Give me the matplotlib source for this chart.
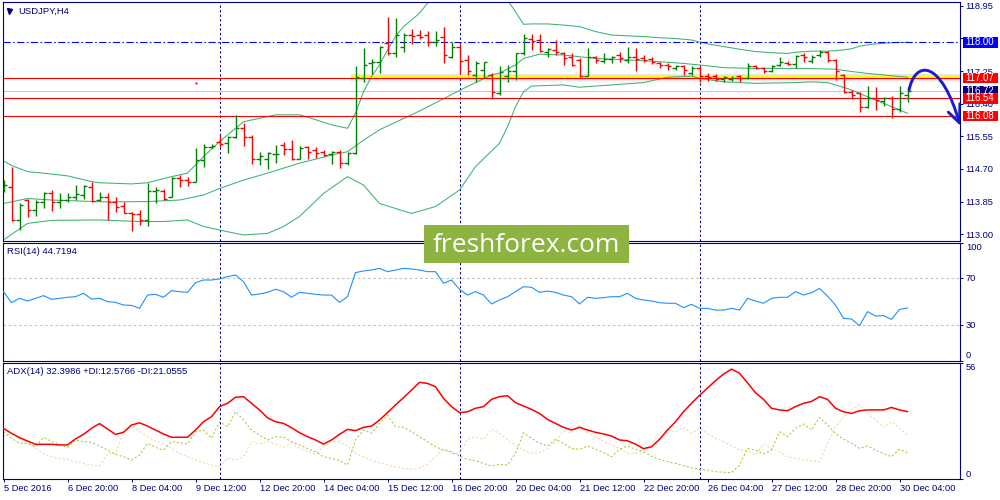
"""USDJPY H4 chart with Bollinger bands, RSI and ADX panels (MT4 style)."""

import matplotlib
matplotlib.use("Agg")
import matplotlib.pyplot as plt
import numpy as np
from matplotlib import transforms
from matplotlib.patches import Rectangle, PathPatch
from matplotlib.path import Path

plt.rcParams['font.family'] = ['Liberation Sans', 'DejaVu Sans']
plt.rcParams['font.size'] = 6.7

# ---- data --------------------------------------------------------------
opens = [114.20, 114.24, 113.37, 113.89, 113.63, 113.85, 114.08, 113.85, 113.89, 113.98,
         114.03, 114.24, 113.89, 113.98, 113.83, 113.73, 113.54, 113.53, 113.37, 114.13,
         114.13, 113.98, 114.46, 114.41, 114.37, 114.93, 115.28, 115.40, 115.38, 115.54,
         115.76, 115.52, 114.95, 114.95, 115.09, 115.32, 115.21, 114.96, 115.26, 115.19,
         115.15, 115.09, 115.15, 114.85, 115.12, 117.06, 117.45, 117.50, 117.97, 117.71,
         117.89, 118.19, 118.19, 118.19, 118.02, 118.15, 117.63, 117.89, 117.54, 117.15,
         117.28, 117.15, 116.69, 117.11, 117.24, 117.71, 118.08, 118.06, 117.76, 117.80,
         117.71, 117.63, 117.54, 117.12, 117.61, 117.52, 117.56, 117.67, 117.54, 117.61,
         117.60, 117.56, 117.47, 117.41, 117.34, 117.37, 117.19, 117.32, 117.12, 117.11,
         117.05, 117.04, 117.12, 117.06, 117.38, 117.32, 117.26, 117.41, 117.47, 117.44,
         117.67, 117.52, 117.67, 117.76, 117.54, 117.15, 116.71, 116.67, 116.31, 116.54,
         116.48, 116.54, 116.25, 116.63]
highs = [114.41, 114.76, 113.80, 113.91, 113.89, 114.11, 114.15, 114.08, 114.06, 114.27,
         114.28, 114.37, 114.10, 114.08, 113.96, 113.84, 113.59, 113.63, 114.34, 114.24,
         114.19, 114.50, 114.54, 114.50, 115.25, 115.34, 115.34, 115.58, 115.56, 116.11,
         115.91, 115.58, 115.15, 115.15, 115.32, 115.41, 115.45, 115.31, 115.30, 115.28,
         115.19, 115.18, 115.19, 115.15, 117.38, 117.84, 117.56, 117.91, 118.67, 118.63,
         118.25, 118.36, 118.32, 118.30, 118.30, 118.39, 118.02, 117.96, 117.67, 117.51,
         117.50, 117.19, 117.37, 117.41, 117.73, 118.23, 118.23, 118.21, 117.84, 118.06,
         117.76, 117.73, 117.58, 117.84, 117.64, 117.71, 117.65, 117.74, 117.89, 117.84,
         117.67, 117.61, 117.50, 117.45, 117.41, 117.41, 117.37, 117.37, 117.21, 117.17,
         117.12, 117.12, 117.15, 117.47, 117.41, 117.35, 117.41, 117.61, 117.51, 117.67,
         117.73, 117.67, 117.80, 117.77, 117.56, 117.17, 116.76, 116.70, 116.86, 116.83,
         116.58, 116.60, 116.86, 116.84]
lows = [114.11, 113.35, 113.11, 113.44, 113.47, 113.67, 113.61, 113.67, 113.85, 113.89,
        113.91, 113.85, 113.86, 113.37, 113.59, 113.54, 113.07, 113.24, 113.20, 113.80,
        113.89, 113.96, 114.24, 114.26, 114.37, 114.76, 115.24, 115.28, 115.12, 115.50,
        115.30, 114.82, 114.80, 114.69, 114.85, 115.06, 114.93, 114.95, 114.95, 114.98,
        115.04, 114.82, 114.72, 114.80, 115.09, 116.97, 117.17, 117.19, 117.67, 117.63,
        117.76, 117.95, 118.08, 117.90, 117.90, 117.45, 117.60, 117.17, 117.15, 116.97,
        117.06, 116.52, 116.64, 116.96, 117.02, 117.67, 117.80, 117.76, 117.63, 117.67,
        117.41, 117.37, 117.09, 117.11, 117.45, 117.45, 117.45, 117.50, 117.45, 117.24,
        117.50, 117.44, 117.32, 117.28, 117.28, 117.15, 117.15, 116.97, 117.00, 117.00,
        116.97, 117.00, 116.97, 117.04, 117.30, 117.21, 117.22, 117.38, 117.40, 117.34,
        117.50, 117.47, 117.63, 117.50, 117.02, 116.69, 116.51, 116.19, 116.28, 116.24,
        116.34, 116.02, 116.19, 116.45]
closes = [114.27, 113.37, 113.76, 113.63, 113.85, 114.08, 113.85, 113.89, 113.98, 114.05,
          114.26, 113.86, 113.98, 113.85, 113.72, 113.55, 113.53, 113.37, 114.13, 114.14,
          113.91, 114.46, 114.41, 114.37, 114.93, 115.28, 115.31, 115.36, 115.54, 115.76,
          115.52, 114.95, 115.04, 115.12, 115.10, 115.22, 114.96, 115.24, 115.15, 115.12,
          115.06, 115.15, 114.85, 115.12, 117.09, 117.41, 117.50, 117.89, 117.71, 118.19,
          118.19, 118.17, 118.13, 118.02, 118.06, 117.67, 117.89, 117.52, 117.24, 117.45,
          117.48, 116.71, 117.22, 117.24, 117.71, 118.10, 118.04, 117.77, 117.82, 117.76,
          117.58, 117.41, 117.11, 117.61, 117.54, 117.56, 117.63, 117.58, 117.61, 117.56,
          117.54, 117.50, 117.41, 117.37, 117.38, 117.28, 117.32, 117.11, 117.09, 117.04,
          117.09, 117.08, 117.06, 117.38, 117.32, 117.26, 117.38, 117.50, 117.44, 117.64,
          117.61, 117.63, 117.76, 117.54, 117.25, 116.71, 116.63, 116.32, 116.54, 116.50,
          116.54, 116.25, 116.67, 116.72]

# Bollinger bands, read at the bars where the lines bend
bb_upper_bars = [0, 1, 3, 5, 8, 11, 12, 16, 18, 21, 23, 25, 27, 29, 30, 32, 34, 37, 38, 41,
                 43, 44, 45, 46, 47, 48, 49, 50, 51, 52, 53, 55, 57, 59, 61, 63, 64, 65, 66, 68,
                 70, 72, 74, 76, 78, 80, 82, 84, 86, 88, 90, 92, 94, 96, 98, 99, 101, 103, 104,
                 106, 107, 109, 111, 113]
bb_upper = [114.91, 114.79, 114.63, 114.59, 114.52, 114.37, 114.34, 114.31, 114.34, 114.50,
            114.59, 115.02, 115.41, 115.76, 115.93, 116.02, 116.11, 116.11, 116.05, 115.85,
            115.76, 116.15, 116.71, 117.11, 117.41, 117.80, 118.15, 118.41, 118.58, 118.76,
            119.02, 119.25, 119.35, 119.30, 119.20, 119.10, 118.80, 118.47, 118.48, 118.48,
            118.45, 118.41, 118.28, 118.19, 118.17, 118.15, 118.12, 118.10, 118.06, 117.96,
            117.89, 117.82, 117.76, 117.73, 117.71, 117.74, 117.77, 117.77, 117.78, 117.83,
            117.90, 117.96, 117.99, 118.00]
bb_mid_bars = [0, 3, 6, 10, 13, 18, 22, 25, 27, 30, 33, 37, 41, 43, 45, 47, 52, 55, 58, 61,
               62, 64, 65, 67, 70, 74, 78, 81, 85, 87, 90, 94, 97, 100, 104, 106, 108, 112, 113]
bb_mid = [113.80, 113.93, 113.89, 113.86, 113.84, 113.85, 113.89, 114.02, 114.19, 114.41,
          114.59, 114.85, 115.06, 115.15, 115.45, 115.72, 116.21, 116.53, 116.85, 117.15,
          117.20, 117.41, 117.58, 117.69, 117.67, 117.58, 117.54, 117.51, 117.45, 117.41,
          117.34, 117.32, 117.32, 117.32, 117.30, 117.24, 117.19, 117.11, 117.09]
bb_low_bars = [0, 3, 6, 12, 17, 20, 23, 25, 29, 30, 33, 35, 37, 40, 43, 45, 47, 51, 54, 57,
               59, 62, 63, 64, 65, 66, 70, 72, 76, 80, 83, 86, 87, 90, 94, 99, 101, 103, 104,
               106, 108, 110, 112, 113]
bb_low = [112.85, 113.28, 113.36, 113.37, 113.33, 113.33, 113.37, 113.20, 113.02, 112.98,
          113.02, 113.20, 113.46, 114.06, 114.50, 114.28, 113.80, 113.54, 113.72, 114.15,
          114.76, 115.37, 115.80, 116.32, 116.71, 116.86, 116.89, 116.83, 116.89, 116.95,
          117.09, 117.12, 117.06, 116.97, 116.93, 116.95, 116.97, 116.95, 116.89, 116.76,
          116.58, 116.41, 116.24, 116.15]

rsi = [58.6, 49.2, 52.9, 50.6, 52.9, 55.2, 52.1, 52.9, 53.8, 54.3,
       57.2, 52.3, 52.9, 50.1, 49.5, 47.2, 46.9, 44.4, 55.7, 56.3,
       53.8, 59.4, 58.6, 58.0, 66.2, 68.5, 68.5, 69.4, 71.3, 72.8,
       67.1, 55.7, 56.6, 58.0, 60.6, 58.6, 53.8, 58.0, 57.2, 56.3,
       55.7, 55.7, 49.5, 54.3, 74.8, 76.2, 77.0, 78.4, 75.6, 77.0,
       78.4, 77.9, 77.0, 75.6, 75.6, 65.7, 68.5, 60.6, 55.7, 58.6,
       55.7, 48.1, 51.5, 54.3, 58.6, 62.8, 62.3, 58.0, 59.1, 58.0,
       55.7, 54.3, 48.1, 53.8, 52.9, 53.5, 54.3, 54.3, 57.2, 52.9,
       51.5, 50.6, 49.2, 48.7, 48.7, 45.0, 47.8, 44.4, 44.4, 42.9,
       42.9, 44.4, 42.9, 52.9, 50.6, 48.7, 52.9, 53.8, 53.8, 58.6,
       55.7, 57.7, 61.3, 54.8, 47.2, 35.9, 35.3, 29.6, 41.6, 37.9,
       38.2, 35.0, 43.5, 44.72]

adx = [24.3, 21.9, 19.8, 18.2, 16.6, 16.6, 16.6, 16.3, 16.3, 19.2,
       21.4, 24.3, 26.6, 24.0, 21.4, 22.4, 25.9, 27.0, 25.4, 23.5,
       21.6, 20.0, 20.0, 20.0, 23.5, 27.5, 29.9, 34.8, 36.4, 39.3,
       39.6, 36.4, 33.2, 29.4, 27.5, 26.7, 24.6, 22.2, 20.3, 18.7,
       16.7, 18.7, 21.4, 23.8, 23.2, 24.8, 25.4, 28.3, 31.9, 35.6,
       39.1, 42.8, 46.5, 46.0, 44.4, 38.8, 34.8, 31.9, 32.3, 34.0,
       34.8, 38.3, 39.6, 40.1, 36.7, 35.1, 33.5, 31.5, 28.6, 26.7,
       24.8, 23.5, 24.8, 23.5, 22.4, 21.6, 20.6, 18.7, 18.3, 16.7,
       14.5, 15.4, 19.0, 23.5, 27.5, 32.3, 36.4, 40.2, 43.8, 47.3,
       50.5, 52.9, 50.9, 46.3, 41.5, 38.3, 34.0, 33.2, 32.8, 34.8,
       36.4, 37.3, 39.6, 38.3, 34.0, 32.3, 31.5, 32.8, 33.2, 33.2,
       33.2, 34.4, 33.2, 32.40]
plus_di = [22.7, 19.5, 17.1, 17.1, 15.4, 20.0, 17.9, 16.7, 15.1, 18.7,
           17.9, 17.5, 15.8, 13.8, 11.7, 10.6, 9.0, 11.4, 17.1, 15.1,
           13.8, 17.9, 17.4, 16.7, 22.7, 23.5, 19.5, 27.5, 25.1, 32.3,
           28.3, 23.5, 21.1, 18.7, 20.3, 20.0, 17.9, 16.3, 14.6, 13.0,
           10.6, 9.8, 8.7, 6.6, 18.7, 23.5, 21.9, 26.7, 30.7, 25.1,
           24.8, 22.7, 20.3, 17.9, 15.4, 13.8, 13.0, 10.9, 9.3, 8.7,
           7.4, 6.1, 6.9, 6.6, 12.2, 22.2, 19.5, 17.1, 15.8, 19.0,
           17.1, 14.6, 14.2, 15.8, 14.2, 12.7, 10.6, 14.2, 15.8, 14.2,
           13.0, 10.9, 9.3, 8.2, 7.4, 6.3, 5.3, 4.5, 4.2, 3.4,
           3.1, 2.9, 6.6, 14.6, 13.8, 11.9, 13.8, 22.7, 20.3, 24.3,
           26.4, 23.5, 29.6, 25.9, 21.9, 19.0, 17.1, 14.6, 15.8, 13.8,
           12.2, 10.6, 14.2, 12.58]
minus_di = [20.3, 21.9, 20.3, 17.9, 14.6, 12.2, 10.6, 9.8, 9.3, 8.2,
            7.4, 6.6, 6.1, 12.2, 12.2, 21.9, 25.9, 22.7, 20.3, 18.2,
            16.6, 14.6, 12.2, 10.6, 9.0, 7.7, 6.6, 5.8, 9.8, 9.0,
            10.6, 17.9, 16.7, 17.9, 16.7, 15.1, 17.1, 14.6, 13.0, 11.9,
            15.4, 17.9, 17.9, 15.8, 12.2, 10.6, 9.0, 7.7, 6.6, 5.8,
            5.0, 4.5, 5.0, 7.1, 10.6, 14.6, 12.2, 12.2, 19.0, 20.3,
            19.0, 23.8, 21.9, 18.7, 16.3, 13.8, 12.2, 12.6, 14.6, 17.9,
            23.0, 22.2, 25.9, 22.2, 20.3, 17.9, 16.3, 14.6, 12.2, 12.2,
            13.8, 16.7, 22.2, 23.5, 22.7, 24.8, 21.9, 24.3, 21.9, 19.5,
            17.9, 15.8, 13.8, 13.5, 11.4, 16.7, 14.6, 13.0, 10.6, 9.8,
            9.0, 8.7, 8.2, 17.1, 25.1, 29.9, 33.2, 35.6, 31.5, 28.3,
            24.8, 27.5, 24.3, 21.06]

date_labels = ['5 Dec 2016', '6 Dec 20:00', '8 Dec 04:00', '9 Dec 12:00', '12 Dec 20:00',
               '14 Dec 04:00', '15 Dec 12:00', '16 Dec 20:00', '20 Dec 04:00', '21 Dec 12:00',
               '22 Dec 20:00', '26 Dec 04:00', '27 Dec 12:00', '28 Dec 20:00', '30 Dec 04:00']
week_starts = [27, 57, 87]              # bars where the weekly separators sit
price_ticks = [118.95, 118.10, 117.25, 116.40, 115.55, 114.70, 113.85, 113.00]
hidden_ticks = [118.10]                 # covered by the 118.00 box on the scale

target_level = 118.00                   # blue dash-dot line
red_levels = [117.07, 116.54, 116.08]   # red horizontal levels
zone_level = 117.07                     # highlighted resistance
zone_start = 43.4                       # bar where the yellow highlight begins
last_price = 116.72
marker_bar, marker_price = 24, 116.95   # small red dot

# hand-drawn forecast arrow (bar, price)
arrow_bars = [113.2, 114.0, 117.2, 119.5]
arrow_prices = [116.76, 117.55, 117.55, 115.90]
arrow_head_bars = [118.1, 119.5, 119.55]
arrow_head_prices = [116.18, 115.90, 116.40]

# ---- styling -----------------------------------------------------------
NAVY = '#000080'
GREEN = '#008000'
RED = '#ff0000'
BB_COLOR = '#3cb371'
W, H = 1000, 500
X_LIM = (-0.125, 119.5625)


def px_rect(left, top, right, bottom):
    return [left / W, 1 - bottom / H, (right - left) / W, (bottom - top) / H]


def style_panel(ax):
    for sp in ax.spines.values():
        sp.set_color(NAVY)
        sp.set_linewidth(0.8)
    ax.set_xlim(*X_LIM)
    ax.yaxis.tick_right()
    ax.tick_params(axis='y', colors=NAVY, length=2.2, width=0.7, pad=1.5,
                   labelsize=6.7, labelcolor=NAVY)
    ax.tick_params(axis='x', bottom=False, labelbottom=False)
    for b in week_starts:
        ax.axvline(b, color=NAVY, lw=0.75, ls=(0, (2.2, 2.2)), zorder=1)


def level_box(ax, price, face):
    trans = transforms.blended_transform_factory(ax.transAxes, ax.transData)
    h = 10.5 / 38.37
    ax.add_patch(Rectangle((1.0027, price - h / 2), 0.0365, h, transform=trans,
                           facecolor=face, edgecolor='none', clip_on=False, zorder=6))
    ax.text(1.0027 + 0.0365 / 2, price, f'{price:.2f}', transform=trans, color='white',
            ha='center', va='center', fontsize=6.9, zorder=7, clip_on=False)


fig = plt.figure(figsize=(10, 5), dpi=100)
fig.patch.set_facecolor('white')

ax = fig.add_axes(px_rect(2.5, 2, 960, 240.5))
ax_rsi = fig.add_axes(px_rect(2.5, 243, 960, 360.5))
ax_adx = fig.add_axes(px_rect(2.5, 362.7, 960, 478.7))

# ---- main price panel --------------------------------------------------
style_panel(ax)
ax.set_ylim(112.835, 119.051)
ax.set_yticks(price_ticks)
ax.set_yticklabels(['' if t in hidden_ticks else f'{t:.2f}' for t in price_ticks])

# yellow highlight with a soft grey shadow
zx = [zone_start, X_LIM[1]]
for k in range(6):
    ax.fill_between(zx, zone_level - 0.02 * (k + 1), zone_level - 0.02 * k,
                    color='#808080', alpha=0.28 * (1 - k / 6), lw=0, zorder=1.2)
ax.fill_between(zx, zone_level + 0.075, zone_level + 0.1, color='#b0b0b0', alpha=0.3,
                lw=0, zorder=1.2)
ax.fill_between(zx, zone_level, zone_level + 0.075, color='#ffff00', lw=0, zorder=1.4)

ax.plot(bb_upper_bars, bb_upper, color=BB_COLOR, lw=0.75, zorder=2)
ax.plot(bb_mid_bars, bb_mid, color=BB_COLOR, lw=0.75, zorder=2)
ax.plot(bb_low_bars, bb_low, color=BB_COLOR, lw=0.75, zorder=2)

ax.axhline(last_price, color='#c8c8c8', lw=0.75, zorder=1.5)
ax.axhline(target_level, color='#0000ff', lw=0.8, ls=(0, (6.5, 2.2, 1.4, 2.2)), zorder=2.2)
for lvl in red_levels:
    ax.axhline(lvl, color=RED, lw=0.8, zorder=2.2)

o = np.array(opens)
c = np.array(closes)
xb = np.arange(len(o))
bar_colors = np.where(c >= o, GREEN, RED)
ax.vlines(xb, lows, highs, colors=bar_colors, lw=1.0, zorder=3)
ax.hlines(o, xb - 0.38, xb, colors=bar_colors, lw=1.0, zorder=3)
ax.hlines(c, xb, xb + 0.38, colors=bar_colors, lw=1.0, zorder=3)

ax.plot([marker_bar], [marker_price], 's', ms=1.6, color=RED, mec='none', zorder=3)

# forecast arrow
verts = list(zip(arrow_bars, arrow_prices))
ax.add_patch(PathPatch(Path(verts, [Path.MOVETO, Path.CURVE4, Path.CURVE4, Path.CURVE4]),
                       facecolor='none', edgecolor='#1c1ccf', lw=2.1, zorder=4,
                       capstyle='round'))
ax.plot(arrow_head_bars, arrow_head_prices, color='#1c1ccf', lw=2.1, zorder=4,
        solid_capstyle='round', solid_joinstyle='round')

# price boxes on the scale
level_box(ax, target_level, '#0000ff')
level_box(ax, last_price, NAVY)
for lvl in red_levels:
    level_box(ax, lvl, RED)

ax.plot([0.0068], [0.963], marker='v', ms=3.6, color=NAVY, transform=ax.transAxes,
        clip_on=False)
ax.text(0.0167, 0.963, 'USDJPY,H4', transform=ax.transAxes, color=NAVY,
        ha='left', va='center', fontsize=6.8)

# ---- RSI panel ---------------------------------------------------------
style_panel(ax_rsi)
ax_rsi.set_ylim(0, 100)
ax_rsi.set_yticks([0, 30, 70, 100])
ax_rsi.set_yticklabels([])
for lvl in (30, 70):
    ax_rsi.axhline(lvl, color='#c0c0c0', lw=0.75, ls=(0, (2.5, 2.5)), zorder=1)
ax_rsi.plot(xb, rsi, color='#1e90ff', lw=0.8, zorder=3)
ax_rsi.text(0.005, 0.926, 'RSI(14) 44.7194', transform=ax_rsi.transAxes, color=NAVY,
            ha='left', va='center', fontsize=6.8)
rsi_trans = transforms.blended_transform_factory(ax_rsi.transAxes, ax_rsi.transData)
for val, va in ((100, 'top'), (70, 'center'), (30, 'center'), (0, 'bottom')):
    ax_rsi.text(1.0063, val, str(val), transform=rsi_trans, color=NAVY, ha='left', va=va,
                fontsize=6.7, clip_on=False)

# ---- ADX panel ---------------------------------------------------------
style_panel(ax_adx)
ax_adx.set_ylim(0, 56)
ax_adx.set_yticks([0, 56])
ax_adx.set_yticklabels([])
ax_adx.plot(xb, minus_di, color='#f5d3a3', lw=0.75, ls=(0, (2, 2)), zorder=2)
ax_adx.plot(xb, plus_di, color='#9acd32', lw=0.75, ls=(0, (2, 2)), zorder=2.1)
ax_adx.plot(xb, adx, color=RED, lw=1.1, zorder=3)
ax_adx.text(0.005, 0.922, 'ADX(14) 32.3986 +DI:12.5766 -DI:21.0555',
            transform=ax_adx.transAxes, color=NAVY, ha='left', va='center', fontsize=6.8)
adx_trans = transforms.blended_transform_factory(ax_adx.transAxes, ax_adx.transData)
for val, va in ((56, 'top'), (0, 'bottom')):
    ax_adx.text(1.0063, val, str(val), transform=adx_trans, color=NAVY, ha='left', va=va,
                fontsize=6.7, clip_on=False)

ax_adx.tick_params(axis='x', bottom=True, labelbottom=True, colors=NAVY, length=2.4,
                   width=0.7, pad=1.2, labelsize=6.7, labelcolor=NAVY)
ax_adx.set_xticks(np.arange(0, len(date_labels) * 8, 8))
ax_adx.set_xticklabels(date_labels, ha='left')

# ---- watermark ---------------------------------------------------------
fig.add_artist(Rectangle((424 / W, 1 - 262.7 / H), 205 / W, 37.7 / H,
                         transform=fig.transFigure, facecolor='#8db440',
                         edgecolor='none', zorder=10))
fig.text(526.7 / W, 1 - 252.3 / H, 'freshforex.com', color='white', fontsize=19,
         family='Open Sans', ha='center', va='baseline', zorder=11)

fig.savefig('out.png', dpi=100, facecolor='white')
plt.close(fig)
